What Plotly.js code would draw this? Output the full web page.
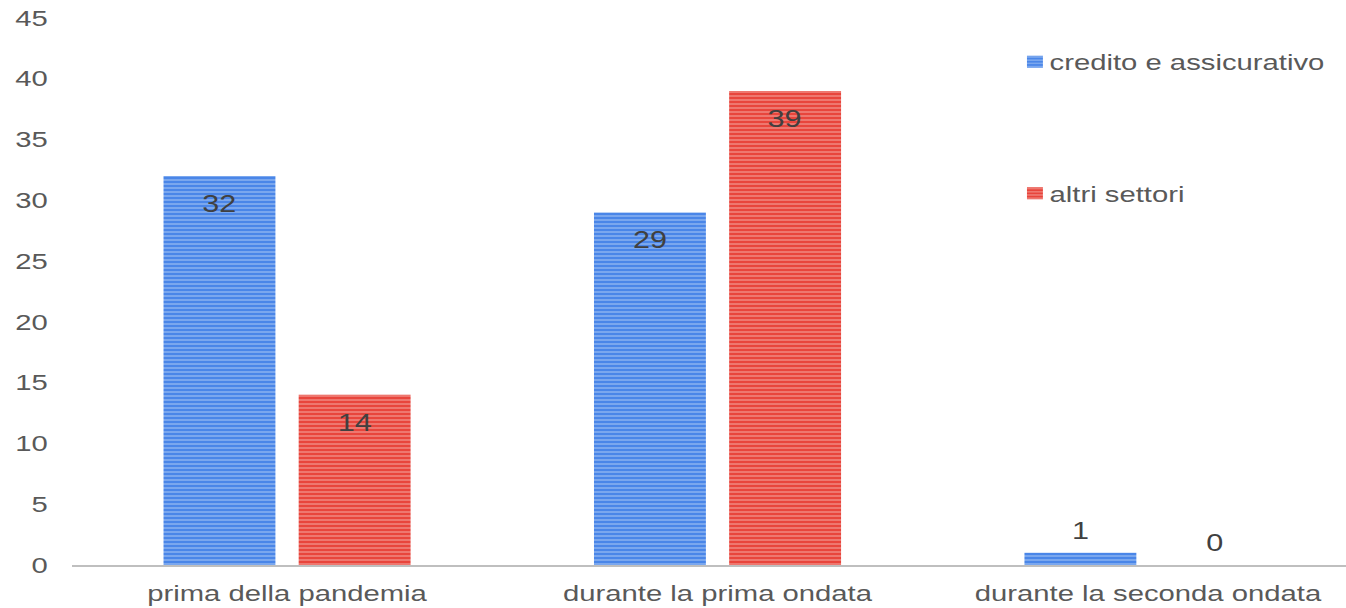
<!DOCTYPE html>
<html><head><meta charset="utf-8">
<script src="https://cdn.plot.ly/plotly-3.0.1.min.js"></script>
<style>html,body{margin:0;padding:0;background:#fff;overflow:hidden}
#chart{transform-origin:0 0}</style>
</head><body>
<div id="chart"></div>
<script>
const categories = ["prima della pandemia", "durante la prima ondata", "durante la seconda ondata"];
const seriesNames = ["credito e assicurativo", "altri settori"];
const creditoValues = [32, 29, 1];
const altriValues = [14, 39, 0];
const yTickValues = [0, 5, 10, 15, 20, 25, 30, 35, 40, 45];

// The reference text is horizontally wide; draw narrower and stretch horizontally.
const STRETCH = 1.33;
const W = Math.round(1346 / STRETCH), H = 608;
const el = document.getElementById("chart");
el.style.width = W + "px"; el.style.height = H + "px";
el.style.transform = "scaleX(" + (1346 / W) + ")";

const BARGAP = 0.372, BARGROUPGAP = 0.172;
const FONT = "Liberation Sans, Arial, sans-serif";

function trace(name, vals, color, light, group) {
  return {
    type: "bar", name: name, x: categories.map((c, i) => i), y: vals,
    legendgroup: group,
    marker: {color: color, line: {width: 0},
      pattern: {shape: "-", fgcolor: light, bgcolor: color, size: 4, solidity: 0.45, fillmode: "overlay"}},
    hoverinfo: "none"
  };
}
const data = [
  trace(seriesNames[0], creditoValues, "#4a86e8", "#b5cff7", "g1"),
  trace(seriesNames[1], altriValues, "#e8453c", "#f6b3ae", "g2")
];

// data labels, placed at each bar's centre (offset derived from the bar gap settings)
const slot = (1 - BARGAP) / 2;
const annotations = [];
[creditoValues, altriValues].forEach((vals, s) => {
  vals.forEach((v, i) => {
    const inside = v >= 5;
    annotations.push({
      xref: "x", yref: "y", x: i + (s - 0.5) * slot, y: v,
      text: String(v), showarrow: false, xanchor: "center", yanchor: "middle",
      yshift: inside ? -28 : 22,
      font: {family: FONT, size: 23, color: "#404040"}
    });
  });
});

const layout = {
  width: W, height: H,
  margin: {l: Math.round(72 / STRETCH), r: 0, t: 18, b: 43},
  paper_bgcolor: "#fff", plot_bgcolor: "#fff",
  font: {family: FONT, size: 22, color: "#595959"},
  barmode: "group", bargap: BARGAP, bargroupgap: BARGROUPGAP,
  xaxis: {range: [-0.5, 2.46], tickvals: [0, 1, 2], ticktext: categories,
    showline: true, linecolor: "#bfbfbf", linewidth: 2, ticklabelstandoff: 8,
    ticks: "", tickfont: {size: 22, color: "#595959"}, fixedrange: true},
  yaxis: {range: [0, 45], tickvals: yTickValues, showgrid: false, zeroline: false, showline: false,
    ticks: "", ticklabelstandoff: 17, tickfont: {size: 22, color: "#595959"}, fixedrange: true},
  showlegend: true,
  legend: {x: 0.735, xanchor: "left", y: 0.958, yanchor: "top", tracegroupgap: 100,
    font: {size: 22, color: "#595959"}, bgcolor: "rgba(0,0,0,0)", itemwidth: 30},
  annotations: annotations
};
Plotly.newPlot("chart", data, layout, {displayModeBar: false, staticPlot: true}).then(() => {
  // tighten the gap between legend swatch and legend text
  document.querySelectorAll(".legendtext").forEach(t => {
    const x = parseFloat(t.getAttribute("x"));
    if (!isNaN(x)) t.setAttribute("x", x - 9);
  });
});
</script>
</body></html>
